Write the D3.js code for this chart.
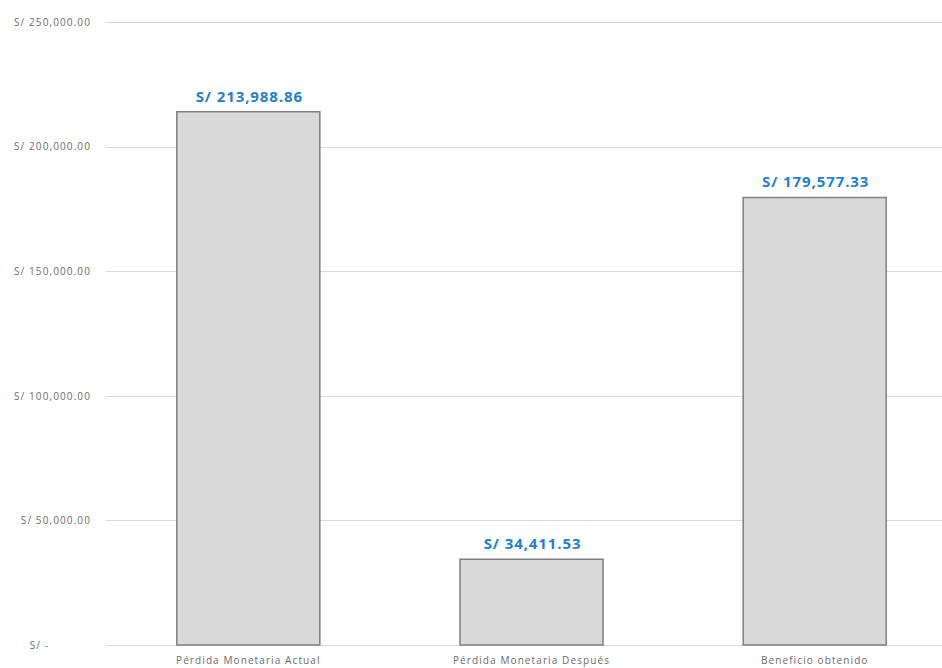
<!DOCTYPE html>
<html>
<head>
<meta charset="utf-8">
<script src="https://cdn.jsdelivr.net/npm/d3@7"></script>
<style>
  body { margin: 0; background: #fff; }
  text { font-family: "Open Sans", "Liberation Sans", sans-serif; }
</style>
</head>
<body>
<script>
// Data
var categories = ["Pérdida Monetaria Actual", "Pérdida Monetaria Después", "Beneficio obtenido"];
var values = [213988.86, 34411.53, 179577.33];
var yTicks = [0, 50000, 100000, 150000, 200000, 250000];

var width = 942, height = 668;

var svg = d3.select("body")
    .append("svg")
    .attr("width", width)
    .attr("height", height);

// chart continues a bit past the right edge, like the original crop
var x = d3.scaleBand()
    .domain(categories)
    .range([106, 957])
    .paddingInner(0.495)
    .paddingOuter(0.25);

var y = d3.scaleLinear()
    .domain([0, 250000])
    .range([645, 22]);

var money = d3.format(",.2f");

// gridlines
svg.append("g")
    .selectAll("line")
    .data(yTicks)
    .enter()
    .append("line")
    .attr("x1", 106)
    .attr("x2", width)
    .attr("y1", function(d){ return Math.round(y(d)) + 0.5; })
    .attr("y2", function(d){ return Math.round(y(d)) + 0.5; })
    .style("stroke", "#d9d9d9")
    .style("stroke-width", 1);

// y axis labels (no domain line, no ticks)
var yAxis = d3.axisLeft(y)
    .tickValues(yTicks)
    .tickSize(0)
    .tickPadding(0)
    .tickFormat(function(d){ return d === 0 ? "S/ -" : "S/ " + money(d); });

var yg = svg.append("g")
    .attr("transform", "translate(91,0)")
    .call(yAxis);
yg.select(".domain").remove();
yg.selectAll("text")
    .style("font-size", "10px")
    .style("letter-spacing", "1.1px")
    .style("fill", "#6b6b6b")
    .attr("dx", function(d){ return d === 0 ? -42 : 0; });

// bars
svg.append("g")
    .selectAll("rect")
    .data(values)
    .enter()
    .append("rect")
    .attr("x", function(d, i){ return x(categories[i]); })
    .attr("y", function(d){ return y(d); })
    .attr("width", x.bandwidth())
    .attr("height", function(d){ return y(0) - y(d); })
    .style("fill", "#d9d9d9")
    .style("stroke", "#7f7f7f")
    .style("stroke-width", 1.5);

// value labels
svg.append("g")
    .selectAll("text")
    .data(values)
    .enter()
    .append("text")
    .attr("x", function(d, i){ return x(categories[i]) + x.bandwidth() / 2 + 1; })
    .attr("y", function(d){ return y(d) - 10; })
    .attr("text-anchor", "middle")
    .style("font-size", "15px")
    .style("font-weight", "bold")
    .style("letter-spacing", "0.9px")
    .style("fill", "#1f7fd0")
    .text(function(d){ return "S/ " + money(d); });

// category labels
var xAxis = d3.axisBottom(x).tickSize(0).tickPadding(0);
var xg = svg.append("g")
    .attr("transform", "translate(0,657)")
    .call(xAxis);
xg.select(".domain").remove();
xg.selectAll("text")
    .style("font-size", "10px")
    .style("letter-spacing", "1.1px")
    .style("fill", "#6b6b6b");
</script>
</body>
</html>
